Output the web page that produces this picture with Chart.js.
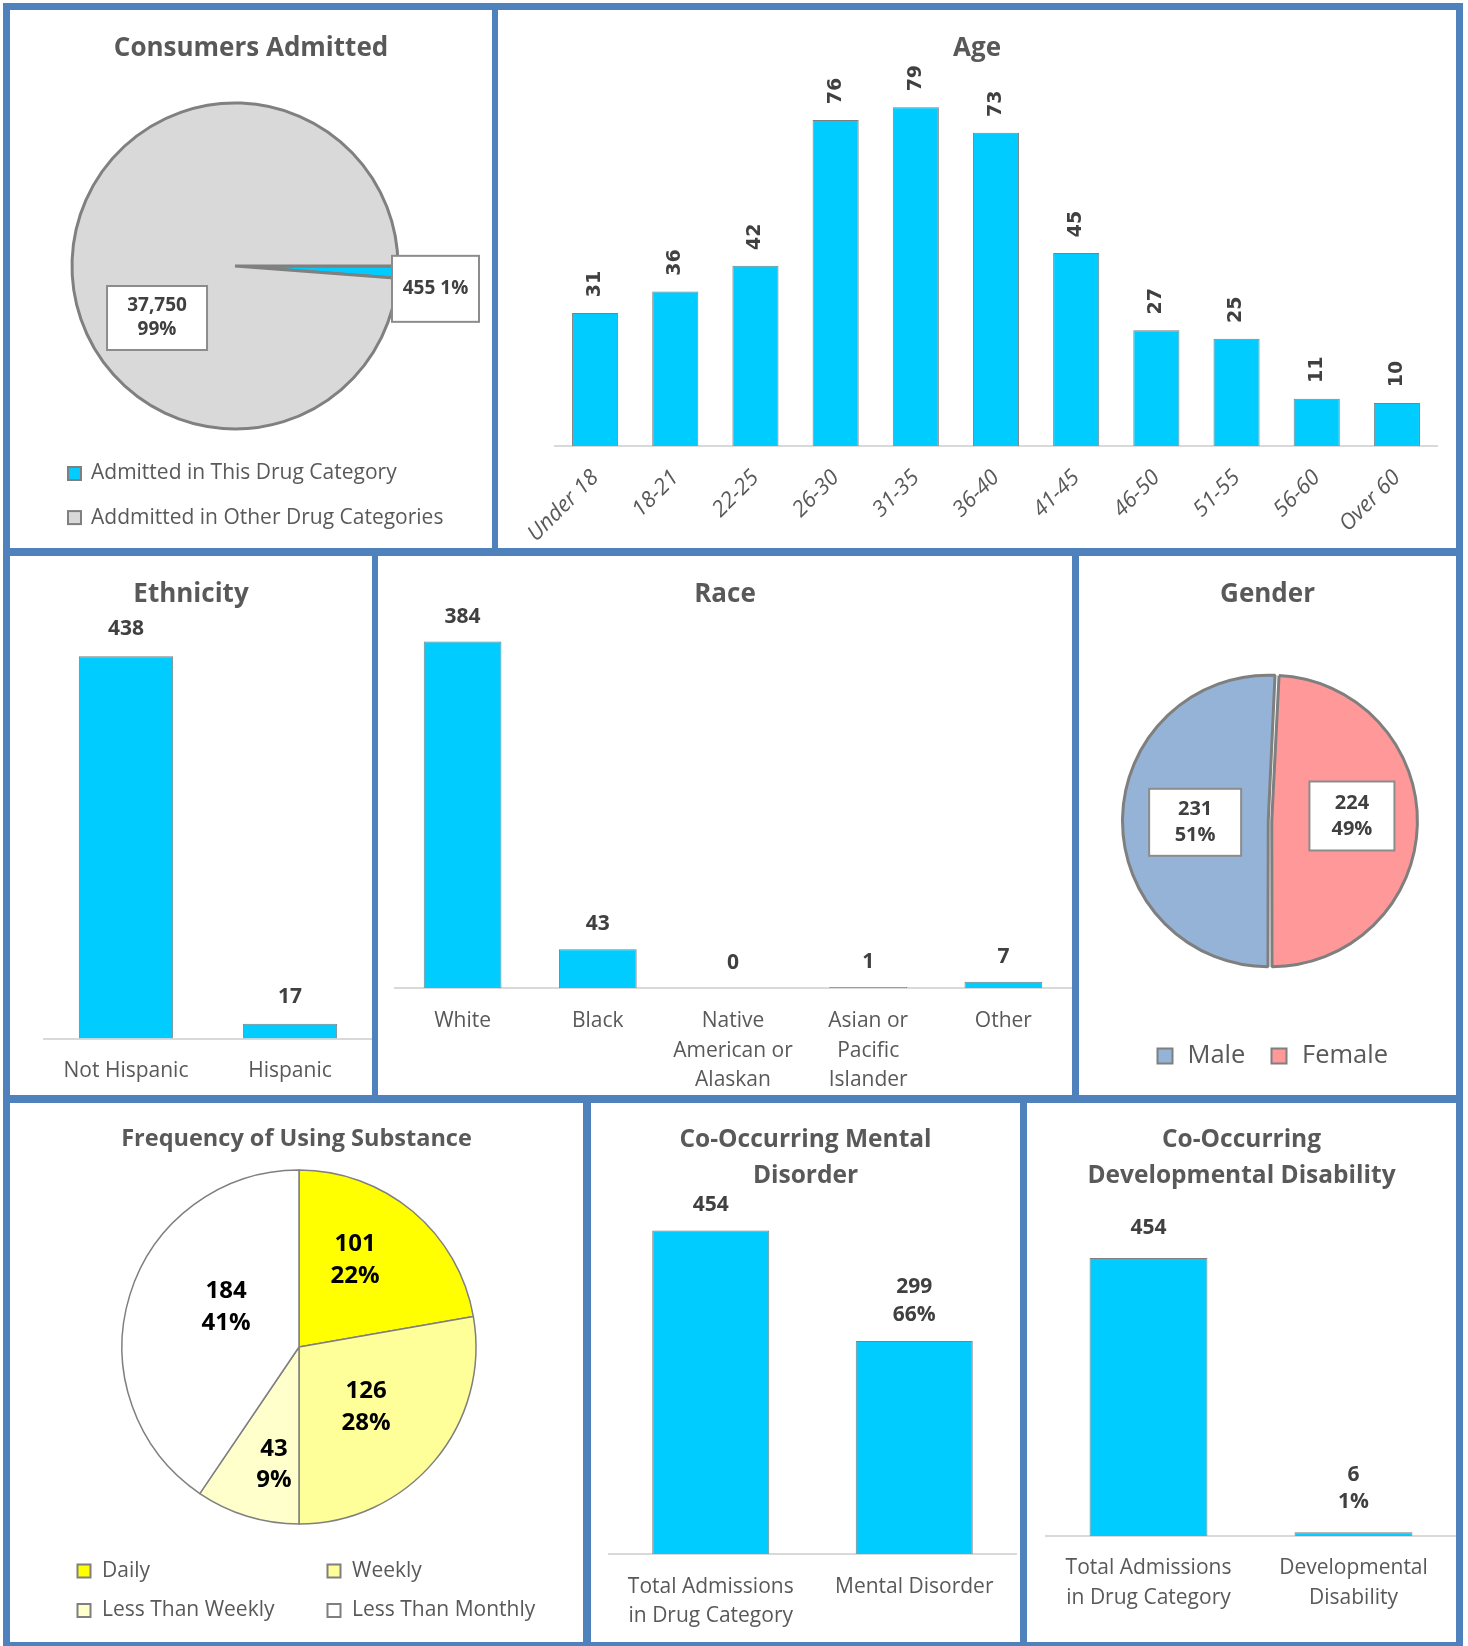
<!DOCTYPE html>
<html>
<head>
<meta charset="UTF-8" />
<title>Admissions Summary</title>
<style>
body { margin: 0; background: #fff; }
.frame { position: absolute; left: 3px; top: 3px; width: 1460px; height: 1643px; background: #4f81bd; }
.panel { position: absolute; background: #fff; }
</style>
</head>
<body>
<div class="frame"></div>
<div class="panel" style="left:10px;top:10px;width:482px;height:538px"><canvas id="admitted"></canvas></div>
<div class="panel" style="left:498px;top:10px;width:958px;height:538px"><canvas id="age"></canvas></div>
<div class="panel" style="left:10px;top:556px;width:362px;height:539px"><canvas id="ethnicity"></canvas></div>
<div class="panel" style="left:378px;top:556px;width:694px;height:539px"><canvas id="race"></canvas></div>
<div class="panel" style="left:1079px;top:556px;width:377px;height:539px"><canvas id="gender"></canvas></div>
<div class="panel" style="left:10px;top:1103px;width:573px;height:539px"><canvas id="frequency"></canvas></div>
<div class="panel" style="left:591px;top:1103px;width:429px;height:539px"><canvas id="mental"></canvas></div>
<div class="panel" style="left:1027px;top:1103px;width:429px;height:539px"><canvas id="disability"></canvas></div>

<script src="https://cdn.jsdelivr.net/npm/chart.js@4"></script>
<script>
// ---- data ----
const admittedLabels = ['Admitted in This Drug Category', 'Addmitted in Other Drug Categories'];
const admittedValues = [455, 37750];

const ageLabels = ['Under 18', '18-21', '22-25', '26-30', '31-35', '36-40', '41-45', '46-50', '51-55', '56-60', 'Over 60'];
const ageValues = [31, 36, 42, 76, 79, 73, 45, 27, 25, 11, 10];

const ethnicityLabels = ['Not Hispanic', 'Hispanic'];
const ethnicityValues = [438, 17];

const raceLabels = ['White', 'Black', ['Native', 'American or', 'Alaskan'], ['Asian or', 'Pacific', 'Islander'], 'Other'];
const raceValues = [384, 43, 0, 1, 7];

const genderLabels = ['Male', 'Female'];
const genderValues = [231, 224];

const frequencyLabels = ['Daily', 'Weekly', 'Less Than Weekly', 'Less Than Monthly'];
const frequencyValues = [101, 126, 43, 184];

const mentalLabels = [['Total Admissions', 'in Drug Category'], 'Mental Disorder'];
const mentalValues = [454, 299];

const disabilityLabels = [['Total Admissions', 'in Drug Category'], ['Developmental', 'Disability']];
const disabilityValues = [454, 6];

// ---- shared styling ----
const GREY = '#595959';
const DARK = '#404040';
const CYAN = '#00CCFF';
const EDGE = '#7F7F7F';

Chart.defaults.font.family = "'Open Sans', sans-serif";
Chart.defaults.devicePixelRatio = 1;

// panel heading, centred on the whole canvas (the plot area is padded unevenly)
function panelTitle(lines, size, y, step) {
	return {
		id: 'panelTitle',
		afterDraw(chart) {
			const ctx = chart.ctx;
			ctx.save();
			ctx.fillStyle = GREY;
			ctx.font = 'bold ' + size + "px 'Open Sans'";
			ctx.textAlign = 'center';
			ctx.textBaseline = 'middle';
			[].concat(lines).forEach((t, k) => ctx.fillText(t, chart.width / 2, y + k * (step || 0)));
			ctx.restore();
		}
	};
}

// value labels above each bar (optionally with share of the first bar)
function barValueLabels(o) {
	return {
		id: 'barValueLabels',
		afterDatasetsDraw(chart) {
			const ctx = chart.ctx;
			const values = chart.data.datasets[0].data;
			ctx.save();
			ctx.fillStyle = DARK;
			ctx.font = o.font;
			ctx.textAlign = 'center';
			ctx.textBaseline = 'middle';
			chart.getDatasetMeta(0).data.forEach((bar, i) => {
				const lines = [String(values[i])];
				if (o.share && i > 0) lines.push(Math.round(values[i] / values[0] * 100) + '%');
				const y = Math.min(bar.y, bar.base) - o.gap;
				if (o.rotate) {
					ctx.save();
					ctx.translate(bar.x, y);
					ctx.rotate(-Math.PI / 2);
					ctx.fillText(lines[0], 0, 0);
					ctx.restore();
				} else {
					lines.forEach((t, k) => ctx.fillText(t, bar.x, y - (lines.length - 1 - k) * o.lineH));
				}
			});
			ctx.restore();
		}
	};
}

// value + percent labels placed at (angle, fraction of radius) from the pie centre
function pieValueLabels(o) {
	return {
		id: 'pieValueLabels',
		afterDatasetsDraw(chart) {
			const ctx = chart.ctx;
			const values = chart.data.datasets[0].data;
			const total = values.reduce((s, v) => s + v, 0);
			ctx.save();
			ctx.font = o.font;
			ctx.textAlign = 'center';
			ctx.textBaseline = 'middle';
			chart.getDatasetMeta(0).data.forEach((arc, i) => {
				const a = o.place[i][0] * Math.PI / 180;
				const x = arc.x + Math.cos(a) * arc.outerRadius * o.place[i][1];
				const y = arc.y + Math.sin(a) * arc.outerRadius * o.place[i][1];
				const num = values[i].toLocaleString('en-US');
				const pct = Math.round(values[i] / total * 100) + '%';
				const lines = o.inline && o.inline[i] ? [num + ' ' + pct] : [num, pct];
				if (o.boxes) {
					const w = o.boxes[i][0], h = o.boxes[i][1];
					ctx.fillStyle = '#fff';
					ctx.fillRect(x - w / 2, y - h / 2, w, h);
					ctx.strokeStyle = '#8C8C8C';
					ctx.lineWidth = 2;
					ctx.strokeRect(x - w / 2, y - h / 2, w, h);
				}
				ctx.fillStyle = o.color;
				lines.forEach((t, k) => ctx.fillText(t, x, y + (k - (lines.length - 1) / 2) * o.lineH));
			});
			ctx.restore();
		}
	};
}

// square-marker legend laid out at fixed spots
function squareLegend(o) {
	return {
		id: 'squareLegend',
		afterDraw(chart) {
			const ctx = chart.ctx;
			const ds = chart.data.datasets[0];
			const s = o.size;
			ctx.save();
			ctx.font = o.font;
			ctx.textAlign = 'left';
			ctx.textBaseline = 'middle';
			chart.data.labels.forEach((label, i) => {
				const [mx, my, tx] = o.items[i];
				ctx.fillStyle = ds.backgroundColor[i];
				ctx.fillRect(mx - s / 2, my - s / 2, s, s);
				ctx.strokeStyle = EDGE;
				ctx.lineWidth = 2;
				ctx.strokeRect(mx - s / 2, my - s / 2, s, s);
				ctx.fillStyle = GREY;
				ctx.fillText(label, tx, my);
			});
			ctx.restore();
		}
	};
}

function barChart(id, labels, values, o) {
	return new Chart(document.getElementById(id), {
		type: 'bar',
		data: {
			labels: labels,
			datasets: [{
				data: values,
				backgroundColor: CYAN,
				borderColor: EDGE,
				borderWidth: 1,
				borderSkipped: 'bottom',
				barPercentage: 0.575,
				categoryPercentage: 1
			}]
		},
		options: {
			responsive: true,
			maintainAspectRatio: false,
			animation: false,
			layout: { padding: o.pad },
			plugins: { legend: { display: false }, tooltip: { enabled: false }, title: { display: false } },
			scales: {
				x: {
					grid: { display: false, drawTicks: false },
					border: { color: '#D9D9D9', width: 2 },
					ticks: {
						color: GREY,
						font: o.tickFont,
						padding: o.tickPad,
						autoSkip: false,
						maxRotation: o.rot || 0,
						minRotation: o.rot || 0
					},
					afterFit: s => { s.height = o.axisH; }
				},
				y: { display: false, min: 0, max: o.max }
			}
		},
		plugins: [o.title, barValueLabels(o.labels)]
	});
}

function pieChart(id, labels, values, o) {
	return new Chart(document.getElementById(id), {
		type: 'pie',
		data: {
			labels: labels,
			datasets: [{
				data: values,
				backgroundColor: o.colors,
				borderColor: o.edge || EDGE,
				borderWidth: o.borderW,
				offset: o.offset || 0
			}]
		},
		options: {
			responsive: true,
			maintainAspectRatio: false,
			animation: false,
			rotation: o.rotation,
			radius: o.radius,
			layout: { padding: o.pad },
			plugins: { legend: { display: false }, tooltip: { enabled: false }, title: { display: false } }
		},
		plugins: [o.title, pieValueLabels(o.labels), squareLegend(o.legend)]
	});
}

const tickFont = { family: 'Open Sans', size: 21, lineHeight: 1.4 };
const valueFont = "bold 21px 'Open Sans'";

// ---- row 1 ----
pieChart('admitted', admittedLabels, admittedValues, {
	colors: [CYAN, '#D9D9D9'],
	edge: '#808080',
	borderW: 3,
	rotation: 90,
	radius: 163,
	pad: { left: 0, right: 32, top: 62, bottom: 88 },
	title: panelTitle('Consumers Admitted', 26, 39),
	labels: {
		font: "bold 19px 'Open Sans'", color: DARK, lineH: 24,
		place: [[6.5, 1.238], [146.3, 0.575]],
		inline: [true, false],
		boxes: [[87, 66], [100, 64]]
	},
	legend: { font: "21px 'Open Sans'", size: 13, items: [[64.5, 463.5, 81], [64.5, 507.6, 81]] }
});

barChart('age', ageLabels, ageValues, {
	max: 85,
	axisH: 102,
	pad: { left: 57, right: 19, top: 71.4, bottom: 0 },
	title: panelTitle('Age', 26, 39),
	tickFont: { family: 'Open Sans', size: 22, style: 'italic' },
	tickPad: 19,
	rot: 45,
	labels: { font: "bold 19px 'DejaVu Sans'", gap: 29, rotate: true }
});

// ---- row 2 ----
barChart('ethnicity', ethnicityLabels, ethnicityValues, {
	max: 480,
	axisH: 56.5,
	pad: { left: 34, right: 0, top: 63.6, bottom: 0 },
	title: panelTitle('Ethnicity', 26, 39),
	tickFont: tickFont,
	tickPad: 18,
	labels: { font: valueFont, gap: 27, lineH: 28 }
});

barChart('race', raceLabels, raceValues, {
	max: 410,
	axisH: 107,
	pad: { left: 17, right: 1, top: 62.1, bottom: 0 },
	title: panelTitle('Race', 26, 39),
	tickFont: tickFont,
	tickPad: 18.5,
	labels: { font: valueFont, gap: 25, lineH: 28 }
});

pieChart('gender', genderLabels, genderValues, {
	colors: ['#95B3D7', '#FF9999'],
	borderW: 3,
	rotation: 180,
	radius: 144,
	offset: 7,
	pad: { left: 5, right: 0, top: 62, bottom: 71 },
	title: panelTitle('Gender', 26, 39),
	labels: {
		font: "bold 20px 'Open Sans'", color: DARK, lineH: 26,
		place: [[179, 0.52], [-3.5, 0.57]],
		boxes: [[92, 67], [85, 69]]
	},
	legend: { font: "25.5px 'Open Sans'", size: 15, items: [[86, 500, 108.5], [200, 500, 223]] }
});

// ---- row 3 ----
pieChart('frequency', frequencyLabels, frequencyValues, {
	colors: ['#FFFF00', '#FFFF99', '#FFFFCC', '#FFFFFF'],
	borderW: 1.5,
	rotation: 0,
	radius: 177,
	pad: { left: 5, right: 0, top: 57.4, bottom: 108.4 },
	title: panelTitle('Frequency of Using Substance', 23.5, 36),
	labels: {
		font: "bold 24px 'Open Sans'", color: '#000', lineH: 31.5,
		place: [[-57.2, 0.585], [41.8, 0.508], [102, 0.681], [208.7, 0.47]]
	},
	legend: {
		font: "21px 'Open Sans'", size: 13,
		items: [[74, 468, 92], [324, 468, 342], [74, 507.5, 92], [324, 507.5, 342]]
	}
});

barChart('mental', mentalLabels, mentalValues, {
	max: 480,
	axisH: 88,
	pad: { left: 18, right: 4, top: 109.1, bottom: 0 },
	title: panelTitle(['Co-Occurring Mental', 'Disorder'], 24.5, 37, 36),
	tickFont: tickFont,
	tickPad: 18,
	labels: { font: valueFont, gap: 26, lineH: 28.5, share: true }
});

barChart('disability', disabilityLabels, disabilityValues, {
	max: 540,
	axisH: 106,
	pad: { left: 19, right: 0, top: 102.4, bottom: 0 },
	title: panelTitle(['Co-Occurring', 'Developmental Disability'], 24.5, 37, 36),
	tickFont: tickFont,
	tickPad: 17.5,
	labels: { font: valueFont, gap: 30, lineH: 27.5, share: true }
});
</script>
</body>
</html>
